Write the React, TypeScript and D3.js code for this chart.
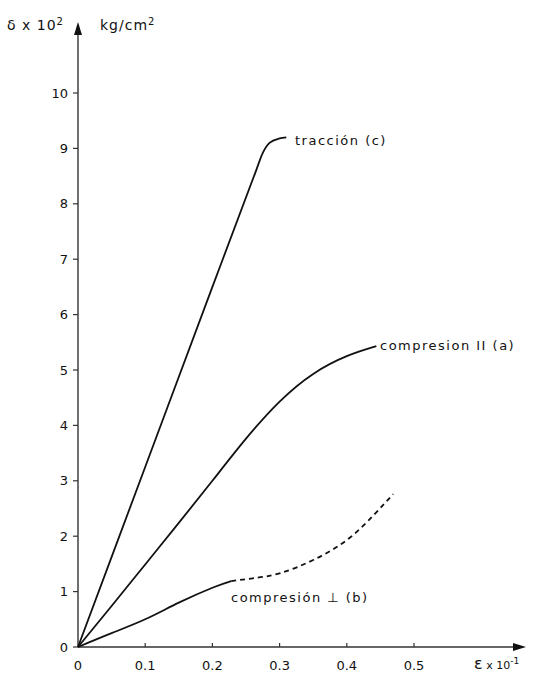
import { useEffect, useRef } from "react";
import * as d3 from "d3";

// strain (x 10^-1) vs stress (x 10^2 kg/cm2)
const traccionX = [0, 0.1, 0.2, 0.265, 0.275, 0.285, 0.3, 0.31];
const traccionY = [0, 3.25, 6.5, 8.6, 8.92, 9.1, 9.18, 9.2];

const compParX = [0, 0.05, 0.1, 0.15, 0.2, 0.25, 0.3, 0.35, 0.4, 0.444];
const compParY = [0, 0.74, 1.49, 2.24, 3.0, 3.76, 4.43, 4.93, 5.25, 5.43];

const compPerpX = [0, 0.05, 0.1, 0.15, 0.2, 0.228];
const compPerpY = [0, 0.25, 0.5, 0.8, 1.07, 1.19];

const compPerpDashX = [0.228, 0.26, 0.3, 0.35, 0.4, 0.44, 0.469];
const compPerpDashY = [1.19, 1.24, 1.33, 1.57, 1.93, 2.38, 2.76];

const xTicks = [0, 0.1, 0.2, 0.3, 0.4, 0.5];
const xTickLabels = ["0", "0.1", "0.2", "0.3", "0.4", "0.5"];
const yTicks = [0, 1, 2, 3, 4, 5, 6, 7, 8, 9, 10];

const FONT = "'DejaVu Sans', sans-serif";

export default function App() {
  const svgRef = useRef<SVGSVGElement>(null);

  useEffect(() => {
    if (!svgRef.current) return;
    const svg = d3.select(svgRef.current);
    svg.selectAll("*").remove();

    const x = d3.scaleLinear().domain([0, 0.5]).range([78, 414]);
    const y = d3.scaleLinear().domain([0, 10]).range([647, 93]);

    const axisColor = "#333";

    // Axes lines
    svg
      .append("line")
      .attr("x1", x(0))
      .attr("x2", 518)
      .attr("y1", y(0))
      .attr("y2", y(0))
      .attr("stroke", axisColor)
      .attr("stroke-width", 1.4);
    svg
      .append("line")
      .attr("x1", x(0))
      .attr("x2", x(0))
      .attr("y1", y(0))
      .attr("y2", 32)
      .attr("stroke", axisColor)
      .attr("stroke-width", 1.4);

    // arrow heads
    svg
      .append("path")
      .attr("d", `M${x(0)},22 L${x(0) - 4},35 L${x(0) + 4},35 Z`)
      .attr("fill", "#111");
    svg
      .append("path")
      .attr("d", `M526,${y(0)} L513,${y(0) - 4} L513,${y(0) + 4} Z`)
      .attr("fill", "#111");

    // Y ticks
    const yg = svg.append("g");
    yg.selectAll("line")
      .data(yTicks)
      .enter()
      .append("line")
      .attr("x1", x(0) - 5)
      .attr("x2", x(0))
      .attr("y1", (d) => y(d))
      .attr("y2", (d) => y(d))
      .attr("stroke", axisColor)
      .attr("stroke-width", 1.2);
    yg.selectAll("text")
      .data(yTicks)
      .enter()
      .append("text")
      .attr("x", 68)
      .attr("y", (d) => y(d))
      .attr("dy", "0.35em")
      .attr("text-anchor", "end")
      .style("font-family", FONT)
      .style("font-size", "13px")
      .style("fill", "#111")
      .text((d) => String(d));

    // X ticks
    const xg = svg.append("g");
    xg.selectAll("line")
      .data(xTicks.slice(1))
      .enter()
      .append("line")
      .attr("x1", (d) => x(d))
      .attr("x2", (d) => x(d))
      .attr("y1", y(0))
      .attr("y2", y(0) - 4)
      .attr("stroke", axisColor)
      .attr("stroke-width", 1.2);
    xg.selectAll("text")
      .data(xTicks)
      .enter()
      .append("text")
      .attr("x", (d) => x(d))
      .attr("y", 665)
      .attr("dy", "0.35em")
      .attr("text-anchor", "middle")
      .style("font-family", FONT)
      .style("font-size", "13px")
      .style("fill", "#111")
      .text((d, i) => xTickLabels[i]);

    // Curves
    const lineOf = (curve: d3.CurveFactory) =>
      d3
        .line<[number, number]>()
        .x((d) => x(d[0]))
        .y((d) => y(d[1]))
        .curve(curve);

    const zip = (xs: number[], ys: number[]) =>
      xs.map((v, i) => [v, ys[i]] as [number, number]);

    const curves = [
      { pts: zip(traccionX, traccionY), dash: null, curve: d3.curveMonotoneX },
      { pts: zip(compParX, compParY), dash: null, curve: d3.curveNatural },
      { pts: zip(compPerpX, compPerpY), dash: null, curve: d3.curveNatural },
      {
        pts: zip(compPerpDashX, compPerpDashY),
        dash: "5,4",
        curve: d3.curveNatural,
      },
    ];

    curves.forEach((c) => {
      svg
        .append("path")
        .attr("d", lineOf(c.curve)(c.pts))
        .attr("fill", "none")
        .attr("stroke", "#111")
        .attr("stroke-width", 1.8)
        .attr("stroke-dasharray", c.dash);
    });

    // Curve labels
    const labels = [
      { text: "tracción (c)", x: 295, y: 140 },
      { text: "compresion II (a)", x: 380, y: 345 },
      { text: "compresión ⊥ (b)", x: 231, y: 597 },
    ];
    svg
      .selectAll(".lbl")
      .data(labels)
      .enter()
      .append("text")
      .attr("class", "lbl")
      .attr("x", (d) => d.x)
      .attr("y", (d) => d.y)
      .attr("dy", "0.35em")
      .style("font-family", FONT)
      .style("font-size", "13px")
      .style("letter-spacing", "1.5px")
      .style("fill", "#111")
      .text((d) => d.text);

    // Axis titles
    const yTitle = svg
      .append("text")
      .attr("x", 7)
      .attr("y", 30)
      .style("font-family", FONT)
      .style("font-size", "14px")
      .style("letter-spacing", "1px")
      .style("fill", "#111");
    yTitle.append("tspan").text("δ x 10");
    yTitle
      .append("tspan")
      .attr("dy", -5)
      .style("font-size", "10px")
      .text("2");

    const unit = svg
      .append("text")
      .attr("x", 100)
      .attr("y", 30)
      .style("font-family", FONT)
      .style("font-size", "14px")
      .style("letter-spacing", "1px")
      .style("fill", "#111");
    unit.append("tspan").text("kg/cm");
    unit
      .append("tspan")
      .attr("dy", -5)
      .style("font-size", "10px")
      .text("2");

    const xTitle = svg
      .append("text")
      .attr("x", 474)
      .attr("y", 669)
      .style("font-family", FONT)
      .style("fill", "#111");
    xTitle.append("tspan").style("font-size", "16px").text("ε");
    xTitle.append("tspan").style("font-size", "11px").text(" x 10");
    xTitle
      .append("tspan")
      .attr("dy", -5)
      .style("font-size", "9px")
      .text("-1");
  }, []);

  return (
    <svg
      ref={svgRef}
      width={533}
      height={674}
      style={{ position: "absolute", left: 0, top: 0, background: "#fff" }}
    />
  );
}
